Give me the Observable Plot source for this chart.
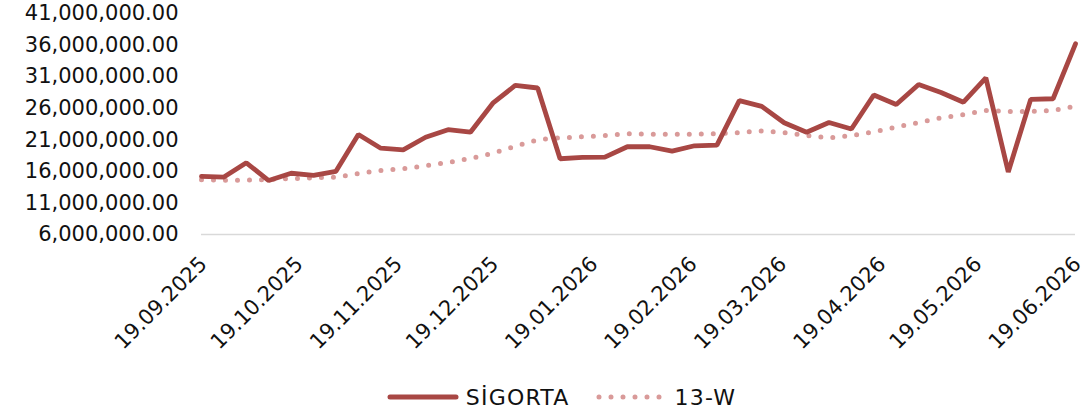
<!DOCTYPE html>
<html>
<head>
<meta charset="utf-8">
<script src="https://cdn.jsdelivr.net/npm/d3@7"></script>
<script src="https://cdn.jsdelivr.net/npm/@observablehq/plot@0.6"></script>
<style>
  html, body { margin: 0; padding: 0; background: #fff; }
  body { width: 1085px; height: 416px; overflow: hidden; font-family: "DejaVu Sans", sans-serif; }
  #chart svg { display: block; }
  #legend { display: flex; justify-content: center; align-items: center; height: 70px; padding-left: 38px; font-size: 22px; letter-spacing: 1.2px; color: #111; }
  .item { display: flex; align-items: center; margin: 0 13px; }
  .item svg { margin-right: 7px; }
</style>
</head>
<body>
<div id="chart"></div>
<div id="legend"></div>
<script>
const dates = [
  "2025-09-19","2025-09-26","2025-10-03","2025-10-10","2025-10-17","2025-10-24","2025-10-31",
  "2025-11-07","2025-11-14","2025-11-21","2025-11-28","2025-12-05","2025-12-12","2025-12-19","2025-12-26",
  "2026-01-02","2026-01-09","2026-01-16","2026-01-23","2026-01-30","2026-02-06","2026-02-13","2026-02-20","2026-02-27",
  "2026-03-06","2026-03-13","2026-03-20","2026-03-27","2026-04-03","2026-04-10","2026-04-17","2026-04-24",
  "2026-05-01","2026-05-08","2026-05-15","2026-05-22","2026-05-29","2026-06-05","2026-06-12","2026-06-19"
];
const sigorta = [
  15200000, 15100000, 17350000, 14550000, 15700000, 15350000, 16000000, 21840000, 19670000, 19400000,
  21400000, 22600000, 22200000, 26800000, 29600000, 29200000, 18000000, 18200000, 18250000, 19900000,
  19900000, 19200000, 20050000, 20150000, 27200000, 26300000, 23700000, 22200000, 23740000, 22700000,
  28100000, 26600000, 29750000, 28500000, 26950000, 30800000, 15900000, 27400000, 27500000, 36200000
];
const ma13 = [
  14660000, 14600000, 14600000, 14700000, 14850000, 14980000, 15080000, 15660000, 16140000, 16400000,
  16880000, 17400000, 18040000, 18880000, 19980000, 21000000, 21300000, 21470000, 21680000, 21950000,
  21900000, 21860000, 21900000, 21950000, 22150000, 22400000, 22150000, 21680000, 21300000, 21680000,
  22260000, 23000000, 23740000, 24480000, 25000000, 25640000, 25480000, 25480000, 25640000, 26300000
];
const xTicks = ["2025-09-19","2025-10-19","2025-11-19","2025-12-19","2026-01-19","2026-02-19","2026-03-19","2026-04-19","2026-05-19","2026-06-19"];
const yTicks = [6000000, 11000000, 16000000, 21000000, 26000000, 31000000, 36000000, 41000000];
const seriesNames = ["SİGORTA", "13-W"];
const colors = ["#a84744", "#d99a99"];

const parse = d3.utcParse("%Y-%m-%d");
const fmtDate = d3.utcFormat("%d.%m.%Y");
const fmtY = d3.format(",.2f");
const rows1 = dates.map((d, i) => ({date: parse(d), value: sigorta[i]}));
const rows2 = dates.map((d, i) => ({date: parse(d), value: ma13[i]}));

const chart = Plot.plot({
  width: 1085,
  height: 362,
  marginLeft: 201,
  marginRight: 10,
  marginTop: 13,
  marginBottom: 128,
  style: {fontFamily: "DejaVu Sans, sans-serif", fontSize: "21px", color: "#111", background: "#fff"},
  x: {type: "utc", domain: [parse(dates[0]), parse(dates[dates.length - 1])]},
  y: {domain: [6000000, 41000000]},
  marks: [
    Plot.ruleY([6000000], {stroke: "#d9d9d9", strokeWidth: 1.5}),
    Plot.axisY({ticks: yTicks, tickFormat: fmtY, tickSize: 0, tickPadding: 23, fontSize: 21, fill: "#111", label: null}),
    Plot.axisX({ticks: xTicks.map(parse), tickFormat: fmtDate, tickSize: 0, tickRotate: -45, tickPadding: 14, dy: 12, dx: 2, fontSize: 21, fill: "#111", label: null}),
    Plot.line(rows2, {x: "date", y: "value", stroke: colors[1], strokeWidth: 5, strokeDasharray: "0 12", strokeLinecap: "round"}),
    Plot.line(rows1, {x: "date", y: "value", stroke: colors[0], strokeWidth: 4.8, strokeLinejoin: "miter", strokeLinecap: "round"})
  ]
});
document.getElementById("chart").appendChild(chart);

const legend = document.getElementById("legend");
seriesNames.forEach((name, i) => {
  const item = document.createElement("div");
  item.className = "item";
  const dash = i === 0 ? "" : 'stroke-dasharray="0 12"';
  item.innerHTML = `<svg width="72" height="12"><line x1="3" y1="6" x2="${i === 0 ? 69 : 66}" y2="6" stroke="${colors[i]}" stroke-width="5" stroke-linecap="round" ${dash}/></svg><span>${name}</span>`;
  legend.appendChild(item);
});
</script>
</body>
</html>
